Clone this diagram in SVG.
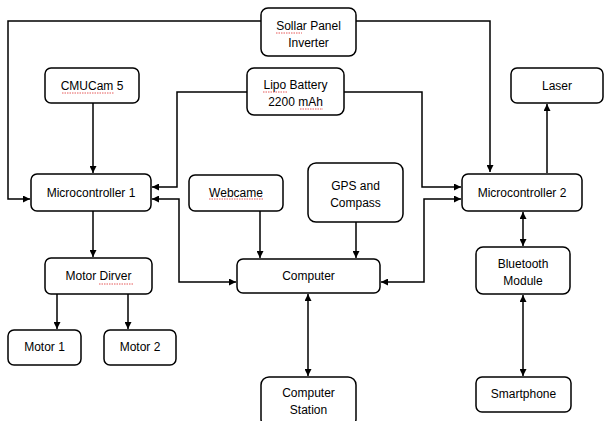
<svg xmlns="http://www.w3.org/2000/svg" width="606" height="421" viewBox="0 0 606 421">
<defs>
<marker id="ah" viewBox="0 0 10 10" refX="10" refY="5" markerWidth="7" markerHeight="7" markerUnits="userSpaceOnUse" orient="auto-start-reverse">
<path d="M0,0 L10,5 L0,10 z" fill="#000"/>
</marker>
<style>
.b{fill:#fff;stroke:#000;stroke-width:1.5}
.t{font-family:"Liberation Sans",Arial,sans-serif;font-size:12px;fill:#000;text-anchor:middle}
.c{fill:none;stroke:#000;stroke-width:1.5}
.s{fill:none;stroke:#e03030;stroke-width:0.8;stroke-dasharray:1.5 1}
</style>
</defs>
<rect width="606" height="421" fill="#fff"/>
<g id="connectors">
<path class="c" d="M261,21 H8 V199 H30" marker-end="url(#ah)"/>
<path class="c" d="M356,21 H490 V172" marker-end="url(#ah)"/>
<path class="c" d="M247,92 H177 V187 H152" marker-end="url(#ah)"/>
<path class="c" d="M344,92 H422 V187 H461" marker-end="url(#ah)"/>
<path class="c" d="M93,103 V173" marker-end="url(#ah)"/>
<path class="c" d="M93,211 V257" marker-end="url(#ah)"/>
<path class="c" d="M57,294 V329" marker-end="url(#ah)"/>
<path class="c" d="M128,294 V329" marker-end="url(#ah)"/>
<path class="c" d="M152,199 H179 V282 H236" marker-start="url(#ah)" marker-end="url(#ah)"/>
<path class="c" d="M381,282 H424 V199 H461" marker-start="url(#ah)" marker-end="url(#ah)"/>
<path class="c" d="M260,211 V258" marker-end="url(#ah)"/>
<path class="c" d="M356,222 V258" marker-end="url(#ah)"/>
<path class="c" d="M547,173 V104" marker-end="url(#ah)"/>
<path class="c" d="M523,212 V246" marker-start="url(#ah)" marker-end="url(#ah)"/>
<path class="c" d="M523,295 V376" marker-start="url(#ah)" marker-end="url(#ah)"/>
<path class="c" d="M308,294 V376" marker-start="url(#ah)" marker-end="url(#ah)"/>
</g>
<g id="solar">
<rect class="b" x="261" y="8" width="95" height="48" rx="7"/>
<text class="t" x="308.5" y="30">Sollar Panel</text>
<text class="t" x="308.5" y="47">Inverter</text>
<path class="s" d="M276,33 H302"/>
</g>
<g id="cmucam">
<rect class="b" x="45" y="68" width="94" height="35" rx="6"/>
<text class="t" x="92" y="90">CMUCam 5</text>
<path class="s" d="M62,93 H114"/>
</g>
<g id="lipo">
<rect class="b" x="247" y="68" width="97" height="47" rx="7"/>
<text class="t" x="295.5" y="89">Lipo Battery</text>
<text class="t" x="295.5" y="106">2200 mAh</text>
<path class="s" d="M263,92 H288"/>
<path class="s" d="M300,109 H323"/>
</g>
<g id="laser">
<rect class="b" x="511" y="68" width="92" height="35" rx="6"/>
<text class="t" x="557" y="90">Laser</text>
</g>
<g id="mc1">
<rect class="b" x="31" y="174" width="120" height="37" rx="6"/>
<text class="t" x="91" y="197">Microcontroller 1</text>
</g>
<g id="webcame">
<rect class="b" x="189" y="175" width="94" height="36" rx="6"/>
<text class="t" x="236" y="197">Webcame</text>
<path class="s" d="M209,199 H263"/>
</g>
<g id="gps">
<rect class="b" x="308" y="163" width="95" height="59" rx="8"/>
<text class="t" x="355.5" y="190">GPS and</text>
<text class="t" x="355.5" y="207">Compass</text>
</g>
<g id="mc2">
<rect class="b" x="462" y="174" width="120" height="37" rx="6"/>
<text class="t" x="522" y="197">Microcontroller 2</text>
</g>
<g id="motordriver">
<rect class="b" x="45" y="258" width="107" height="36" rx="6"/>
<text class="t" x="98.5" y="280">Motor Dirver</text>
<path class="s" d="M99,284 H133"/>
</g>
<g id="computer">
<rect class="b" x="237" y="259" width="143" height="34" rx="6"/>
<text class="t" x="308.5" y="280">Computer</text>
</g>
<g id="bluetooth">
<rect class="b" x="476" y="247" width="94" height="47" rx="7"/>
<text class="t" x="523" y="268">Bluetooth</text>
<text class="t" x="523" y="285">Module</text>
</g>
<g id="motor1">
<rect class="b" x="8" y="330" width="73" height="35" rx="6"/>
<text class="t" x="44.5" y="351">Motor 1</text>
</g>
<g id="motor2">
<rect class="b" x="104" y="330" width="72" height="35" rx="6"/>
<text class="t" x="140" y="351">Motor 2</text>
</g>
<g id="station">
<rect class="b" x="261" y="377" width="95" height="50" rx="8"/>
<text class="t" x="308.5" y="397">Computer</text>
<text class="t" x="308.5" y="414">Station</text>
</g>
<g id="smartphone">
<rect class="b" x="476" y="377" width="95" height="35" rx="6"/>
<text class="t" x="523.5" y="398">Smartphone</text>
</g>
</svg>
